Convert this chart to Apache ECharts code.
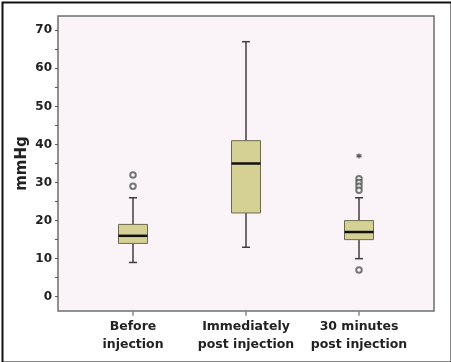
<!DOCTYPE html>
<html>
<head>
<meta charset="utf-8">
<script src="https://cdn.jsdelivr.net/npm/echarts@6/dist/echarts.min.js"></script>
<style>
html,body{margin:0;padding:0;background:#fff;}
#c{width:451px;height:362px;}
</style>
</head>
<body>
<div id="c"></div>
<script>
// ---- data ----
const categories = ['Before\ninjection', 'Immediately\npost injection', '30 minutes\npost injection'];
// [low whisker, Q1, median, Q3, high whisker]
const boxStats = [
  [9, 14, 16, 19, 26],
  [13, 22, 35, 41, 67],
  [10, 15, 17, 20, 26]
];
// outliers: [category index, value]
const outliers = [
  [0, 32], [0, 29],
  [2, 31], [2, 30], [2, 29], [2, 28], [2, 7]
];
const extremes = [[2, 37]];
const yTickValues = [0, 5, 10, 15, 20, 25, 30, 35, 40, 45, 50, 55, 60, 65, 70];
const yLabelValues = [0, 10, 20, 30, 40, 50, 60, 70];

const Y_MIN = -3.75, Y_MAX = 73.75;
const FONT = 'DejaVu Sans';

const chart = echarts.init(document.getElementById('c'), null, {renderer: 'canvas'});

const boxData = boxStats.map((s, i) => [i].concat(s));
const xTickData = categories.map((c, i) => [i, Y_MIN]);

const option = {
  backgroundColor: '#ffffff',
  animation: false,
  graphic: [{
    type: 'rect', left: 0, top: 0, z: 100,
    shape: {x: 1, y: 1, width: 449, height: 360},
    style: {fill: 'none', stroke: '#111', lineWidth: 2}
  }],
  grid: [
    {left: 58, right: 17, top: 16, bottom: 51, show: true,
     backgroundColor: '#faf4f8', borderColor: '#6e6e6e', borderWidth: 1.5},
    {left: 76.5, right: 35.5, top: 16, bottom: 51}
  ],
  xAxis: [
    {gridIndex: 0, type: 'value', min: 0, max: 1, show: false},
    {gridIndex: 1, type: 'category', data: categories, position: 'bottom',
     axisLine: {show: false, onZero: false},
     axisTick: {show: false},
     axisLabel: {fontFamily: FONT, fontWeight: 'bold', fontSize: 12.5, color: '#222',
                 lineHeight: 18, margin: 7, interval: 0},
     splitLine: {show: false}}
  ],
  yAxis: [
    {gridIndex: 0, type: 'value', min: Y_MIN, max: Y_MAX,
     name: 'mmHg', nameLocation: 'middle', nameGap: 28, nameMoveOverlap: false,
     nameTextStyle: {fontFamily: FONT, fontWeight: 'bold', fontSize: 15, color: '#222'},
     axisLine: {show: false},
     axisTick: {show: true, length: 3, customValues: yTickValues,
                lineStyle: {color: '#555', width: 1}},
     axisLabel: {customValues: yLabelValues, fontFamily: FONT, fontWeight: 'bold',
                 fontSize: 12, color: '#222', margin: 6},
     splitLine: {show: false}},
    {gridIndex: 1, type: 'value', min: Y_MIN, max: Y_MAX, show: false}
  ],
  series: [
    {
      type: 'custom', xAxisIndex: 1, yAxisIndex: 1,
      data: boxData,
      encode: {x: 0, y: [1, 2, 3, 4, 5]},
      renderItem: function (params, api) {
        const ci = api.value(0);
        const p = v => api.coord([ci, v]);
        const x = p(0)[0];
        const yLow = p(api.value(1))[1];
        const yQ1 = p(api.value(2))[1];
        const yMed = p(api.value(3))[1];
        const yQ3 = p(api.value(4))[1];
        const yHigh = p(api.value(5))[1];
        const hw = 14.5, cw = 4;
        const wStyle = {stroke: '#3f3f3f', lineWidth: 1.5};
        return {
          type: 'group',
          children: [
            {type: 'line', shape: {x1: x, y1: yHigh, x2: x, y2: yQ3}, style: wStyle},
            {type: 'line', shape: {x1: x, y1: yQ1, x2: x, y2: yLow}, style: wStyle},
            {type: 'line', shape: {x1: x - cw, y1: yHigh, x2: x + cw, y2: yHigh}, style: wStyle},
            {type: 'line', shape: {x1: x - cw, y1: yLow, x2: x + cw, y2: yLow}, style: wStyle},
            {type: 'rect', shape: {x: x - hw, y: yQ3, width: hw * 2, height: yQ1 - yQ3},
             style: {fill: '#d5d195', stroke: '#6d6a4c', lineWidth: 1}},
            {type: 'line', shape: {x1: x - hw, y1: yMed, x2: x + hw, y2: yMed},
             style: {stroke: '#111', lineWidth: 2.5}}
          ]
        };
      }
    },
    {
      type: 'scatter', xAxisIndex: 1, yAxisIndex: 1,
      data: outliers, symbol: 'emptyCircle', symbolSize: 5.5,
      itemStyle: {color: '#555', borderColor: '#555', borderWidth: 1}
    },
    {
      type: 'scatter', xAxisIndex: 1, yAxisIndex: 1,
      data: extremes,
      symbol: 'path://M0,-5L0,5M-4.33,-2.5L4.33,2.5M-4.33,2.5L4.33,-2.5',
      symbolSize: 5,
      itemStyle: {color: 'none', borderColor: '#333', borderWidth: 1.3}
    },
    {
      // x-axis tick marks below the frame at each category
      type: 'scatter', xAxisIndex: 1, yAxisIndex: 1, clip: false, silent: true,
      data: xTickData, symbol: 'rect', symbolSize: [1.2, 4], symbolOffset: [0, 2.8],
      itemStyle: {color: '#444'}, z: 10
    }
  ]
};
chart.setOption(option);
</script>
</body>
</html>
